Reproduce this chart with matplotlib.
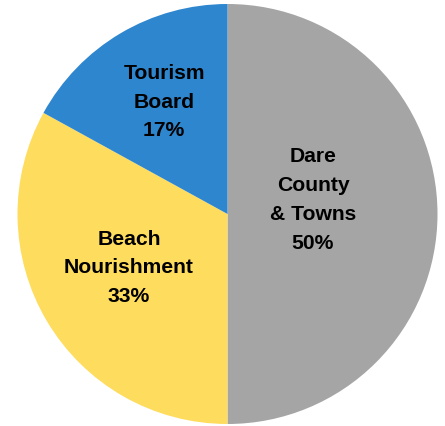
import matplotlib.pyplot as plt

# data
labels = ["Dare\nCounty\n& Towns", "Beach\nNourishment", "Tourism\nBoard"]
shares = [50, 33, 17]
colors = ["#A5A5A5", "#FEDC5E", "#2E86CF"]

# label centres in pie units (radius = 1)
label_pos = [(0.407, 0.071), (-0.469, -0.252), (-0.302, 0.538)]

fig = plt.figure(figsize=(4.45, 4.27), dpi=100)
ax = fig.add_axes([17.5 / 445, 2 / 427, 420 / 445, 420 / 427])

ax.pie(
    shares,
    colors=colors,
    startangle=90,
    counterclock=False,
    radius=1.0,
    wedgeprops={"linewidth": 0},
)

for lab, val, (x, y) in zip(labels, shares, label_pos):
    ax.text(
        x, y, f"{lab}\n{val}%",
        ha="center", va="center",
        fontsize=15.2, fontweight="bold",
        family="Liberation Sans", color="black",
        linespacing=1.66,
    )

ax.set_xlim(-1, 1)
ax.set_ylim(-1, 1)
ax.set_aspect("auto")
ax.axis("off")

fig.savefig("out.png", dpi=100)
